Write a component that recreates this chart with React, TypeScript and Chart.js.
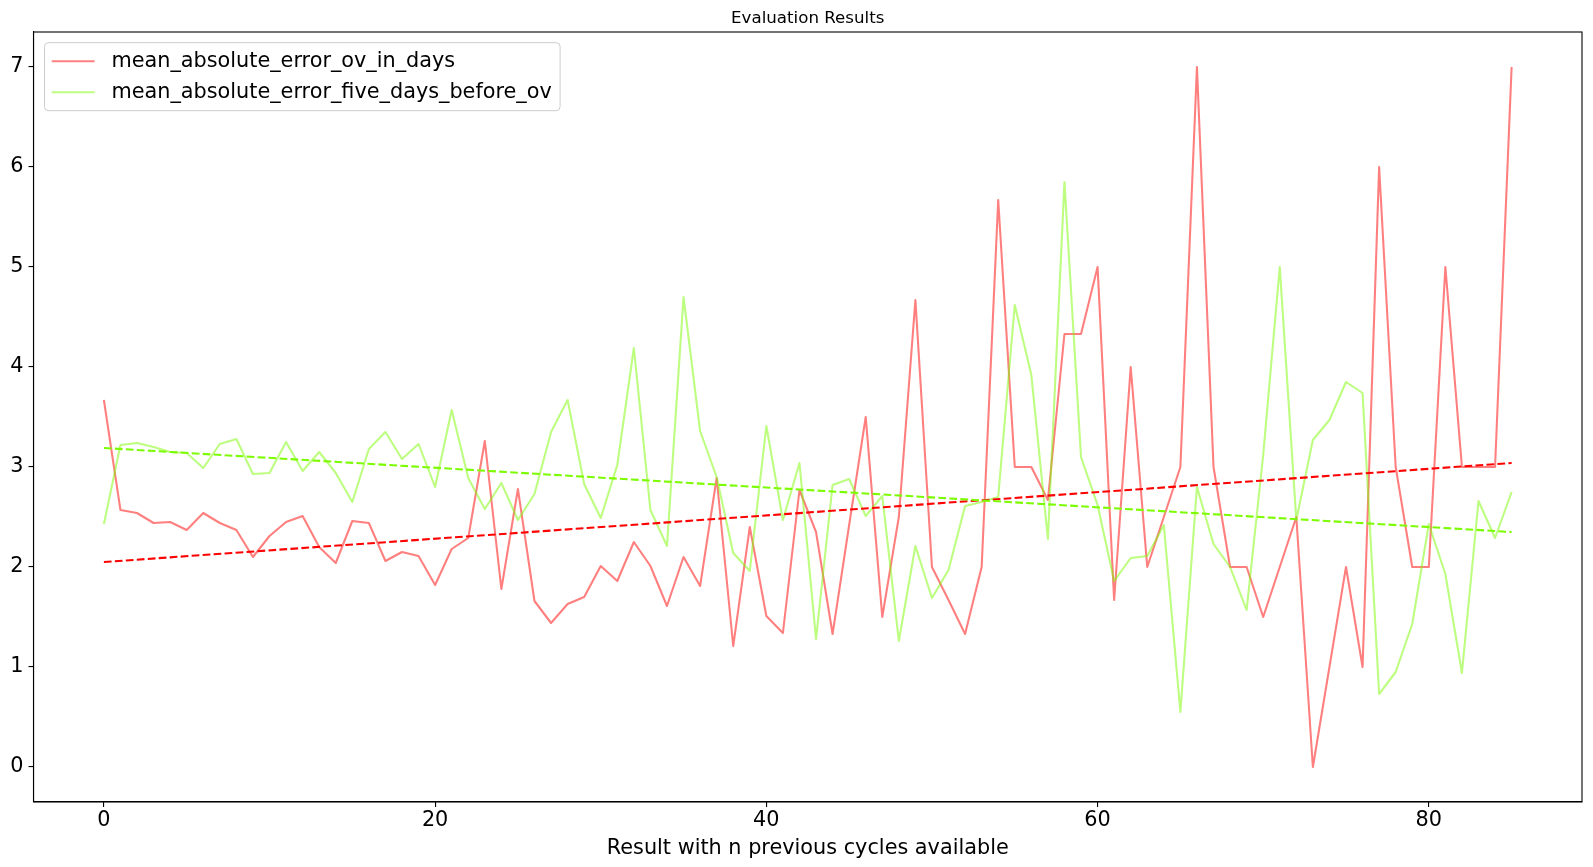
import React, { useEffect, useRef } from "react";
import { Chart, registerables } from "chart.js";

Chart.register(...registerables);

const chartTitle = "Evaluation Results";
const xAxisTitle = "Result with n previous cycles available";
const seriesLabels = ["mean_absolute_error_ov_in_days", "mean_absolute_error_five_days_before_ov"];

// x positions: number of previous cycles available (0..85)
const cycles = Array.from({ length: 86 }, (_, i) => i);

const maeOvInDays = [
  3.67, 2.57, 2.54, 2.44, 2.45, 2.37, 2.54, 2.44, 2.37, 2.10,
  2.31, 2.45, 2.51, 2.20, 2.04, 2.46, 2.44, 2.06, 2.15, 2.11,
  1.82, 2.18, 2.29, 3.26, 1.78, 2.78, 1.66, 1.44, 1.63, 1.70,
  2.01, 1.86, 2.25, 2.01, 1.61, 2.10, 1.81, 2.89, 1.21, 2.40,
  1.51, 1.34, 2.77, 2.35, 1.33, 2.42, 3.50, 1.50, 2.50, 4.67,
  2.00, 1.67, 1.33, 2.00, 5.67, 3.00, 3.00, 2.67, 4.33, 4.33,
  5.00, 1.67, 4.00, 2.00, 2.50, 3.00, 7.00, 3.00, 2.00, 2.00,
  1.50, 2.00, 2.50, 0.00, 1.00, 2.00, 1.00, 6.00, 3.00, 2.00,
  2.00, 5.00, 3.00, 3.00, 3.00, 7.00,
];

const maeFiveDaysBeforeOv = [
  2.43, 3.22, 3.24, 3.20, 3.15, 3.14, 2.99, 3.23, 3.28, 2.93,
  2.94, 3.25, 2.96, 3.15, 2.94, 2.65, 3.18, 3.35, 3.08, 3.23,
  2.80, 3.57, 2.89, 2.58, 2.84, 2.47, 2.73, 3.35, 3.67, 2.83,
  2.49, 3.02, 4.19, 2.57, 2.21, 4.70, 3.36, 2.90, 2.14, 1.96,
  3.41, 2.47, 3.04, 1.28, 2.82, 2.88, 2.51, 2.71, 1.26, 2.21,
  1.69, 1.97, 2.61, 2.65, 2.70, 4.62, 3.92, 2.28, 5.85, 3.10,
  2.62, 1.86, 2.09, 2.11, 2.42, 0.55, 2.80, 2.23, 2.00, 1.57,
  3.12, 5.00, 2.47, 3.27, 3.47, 3.85, 3.74, 0.73, 0.95, 1.43,
  2.43, 1.93, 0.94, 2.66, 2.29, 2.75,
];

// linear trend lines (endpoints)
const trendCycles = [0, 85];
const trendOvInDays = [2.05, 3.04];
const trendFiveDaysBeforeOv = [3.19, 2.35];

const xTicks = [0, 20, 40, 60, 80];
const yTicks = [0, 1, 2, 3, 4, 5, 6, 7];

const FONT = '"DejaVu Sans", "Liberation Sans", sans-serif';
const RED_LINE = "rgba(255,0,0,0.5)";
const GREEN_LINE = "rgba(124,252,0,0.5)";

const decorPlugin = {
  id: "decor",
  afterDraw(chart: any) {
    const { ctx, chartArea } = chart;
    ctx.save();
    // frame (all four spines)
    ctx.strokeStyle = "#000";
    ctx.lineWidth = 1.1;
    ctx.strokeRect(chartArea.left, chartArea.top, chartArea.right - chartArea.left, chartArea.bottom - chartArea.top);

    // title
    ctx.fillStyle = "#000";
    ctx.font = `16.67px ${FONT}`;
    ctx.textAlign = "center";
    ctx.textBaseline = "middle";
    ctx.fillText(chartTitle, (chartArea.left + chartArea.right) / 2, 18.3);

    // legend
    const fs = 20.8;
    ctx.font = `${fs}px ${FONT}`;
    const textX = 111.4;
    const w = Math.max(...seriesLabels.map((l) => ctx.measureText(l).width));
    const left = 44.5;
    const top = 42.7;
    const right = textX + w + 8.3;
    const bottom = 110.7;
    const r = 4;
    ctx.beginPath();
    ctx.moveTo(left + r, top);
    ctx.lineTo(right - r, top);
    ctx.quadraticCurveTo(right, top, right, top + r);
    ctx.lineTo(right, bottom - r);
    ctx.quadraticCurveTo(right, bottom, right - r, bottom);
    ctx.lineTo(left + r, bottom);
    ctx.quadraticCurveTo(left, bottom, left, bottom - r);
    ctx.lineTo(left, top + r);
    ctx.quadraticCurveTo(left, top, left + r, top);
    ctx.closePath();
    ctx.fillStyle = "rgba(255,255,255,0.8)";
    ctx.fill();
    ctx.strokeStyle = "#cccccc";
    ctx.lineWidth = 1;
    ctx.stroke();

    const rows = [61.3, 92.2];
    const colors = [RED_LINE, GREEN_LINE];
    seriesLabels.forEach((label, i) => {
      ctx.beginPath();
      ctx.strokeStyle = colors[i];
      ctx.lineWidth = 2.08;
      ctx.moveTo(51.8, rows[i]);
      ctx.lineTo(94.6, rows[i]);
      ctx.stroke();
      ctx.fillStyle = "#000";
      ctx.textAlign = "left";
      ctx.textBaseline = "middle";
      ctx.fillText(label, textX, rows[i]);
    });
    ctx.restore();
  },
};

export default function App() {
  const canvasRef = useRef<HTMLCanvasElement | null>(null);

  useEffect(() => {
    const canvas = canvasRef.current;
    if (!canvas) return;
    const chart = new Chart(canvas, {
      type: "line",
      data: {
        datasets: [
          {
            label: "trend_five_days_before_ov",
            data: trendCycles.map((x, i) => ({ x, y: trendFiveDaysBeforeOv[i] })),
            borderColor: "#7cfc00",
            borderWidth: 2.08,
            borderDash: [7.7, 3.3],
            pointRadius: 0,
            fill: false,
            order: 0,
          },
          {
            label: "trend_ov_in_days",
            data: trendCycles.map((x, i) => ({ x, y: trendOvInDays[i] })),
            borderColor: "#ff0000",
            borderWidth: 2.08,
            borderDash: [7.7, 3.3],
            pointRadius: 0,
            fill: false,
            order: 1,
          },
          {
            label: seriesLabels[1],
            data: cycles.map((x, i) => ({ x, y: maeFiveDaysBeforeOv[i] })),
            borderColor: GREEN_LINE,
            borderWidth: 2.08,
            borderJoinStyle: "round",
            pointRadius: 0,
            tension: 0,
            fill: false,
            order: 2,
          },
          {
            label: seriesLabels[0],
            data: cycles.map((x, i) => ({ x, y: maeOvInDays[i] })),
            borderColor: RED_LINE,
            borderWidth: 2.08,
            borderJoinStyle: "round",
            pointRadius: 0,
            tension: 0,
            fill: false,
            order: 3,
          },
        ],
      },
      options: {
        responsive: false,
        animation: false,
        devicePixelRatio: 1,
        layout: { padding: { left: 0, right: 11, top: 32, bottom: 0 } },
        plugins: {
          legend: { display: false },
          title: { display: false },
          tooltip: { enabled: false },
        },
        scales: {
          x: {
            type: "linear",
            min: -4.25,
            max: 89.25,
            afterBuildTicks: (scale: any) => {
              scale.ticks = xTicks.map((v) => ({ value: v }));
            },
            afterFit: (scale: any) => {
              scale.height = 65;
            },
            grid: {
              display: true,
              drawOnChartArea: false,
              drawTicks: true,
              tickLength: 5,
              color: "#000",
              lineWidth: 1.1,
            },
            border: { display: true, color: "#000", width: 1.1 },
            ticks: {
              color: "#000",
              font: { family: FONT, size: 20.8, lineHeight: 1.0 },
              padding: 3,
              maxRotation: 0,
              autoSkip: false,
              callback: (v: any) => String(v),
            },
            title: {
              display: true,
              text: xAxisTitle,
              color: "#000",
              font: { family: FONT, size: 20.8, lineHeight: 1.2 },
              padding: { top: 0, bottom: 5.5 },
            },
          },
          y: {
            type: "linear",
            min: -0.35,
            max: 7.35,
            afterBuildTicks: (scale: any) => {
              scale.ticks = yTicks.map((v) => ({ value: v }));
            },
            afterFit: (scale: any) => {
              scale.width = 33.5;
            },
            grid: {
              display: true,
              drawOnChartArea: false,
              drawTicks: true,
              tickLength: 5,
              color: "#000",
              lineWidth: 1.1,
            },
            border: { display: true, color: "#000", width: 1.1 },
            ticks: {
              color: "#000",
              font: { family: FONT, size: 20.8, lineHeight: 1.0 },
              padding: 5,
              autoSkip: false,
              callback: (v: any) => String(v),
            },
          },
        },
      },
      plugins: [decorPlugin],
    });
    return () => chart.destroy();
  }, []);

  return (
    <div style={{ position: "absolute", left: 0, top: 0, width: 1593, height: 867, background: "#fff" }}>
      <canvas ref={canvasRef} width={1593} height={867} style={{ display: "block" }} />
    </div>
  );
}
